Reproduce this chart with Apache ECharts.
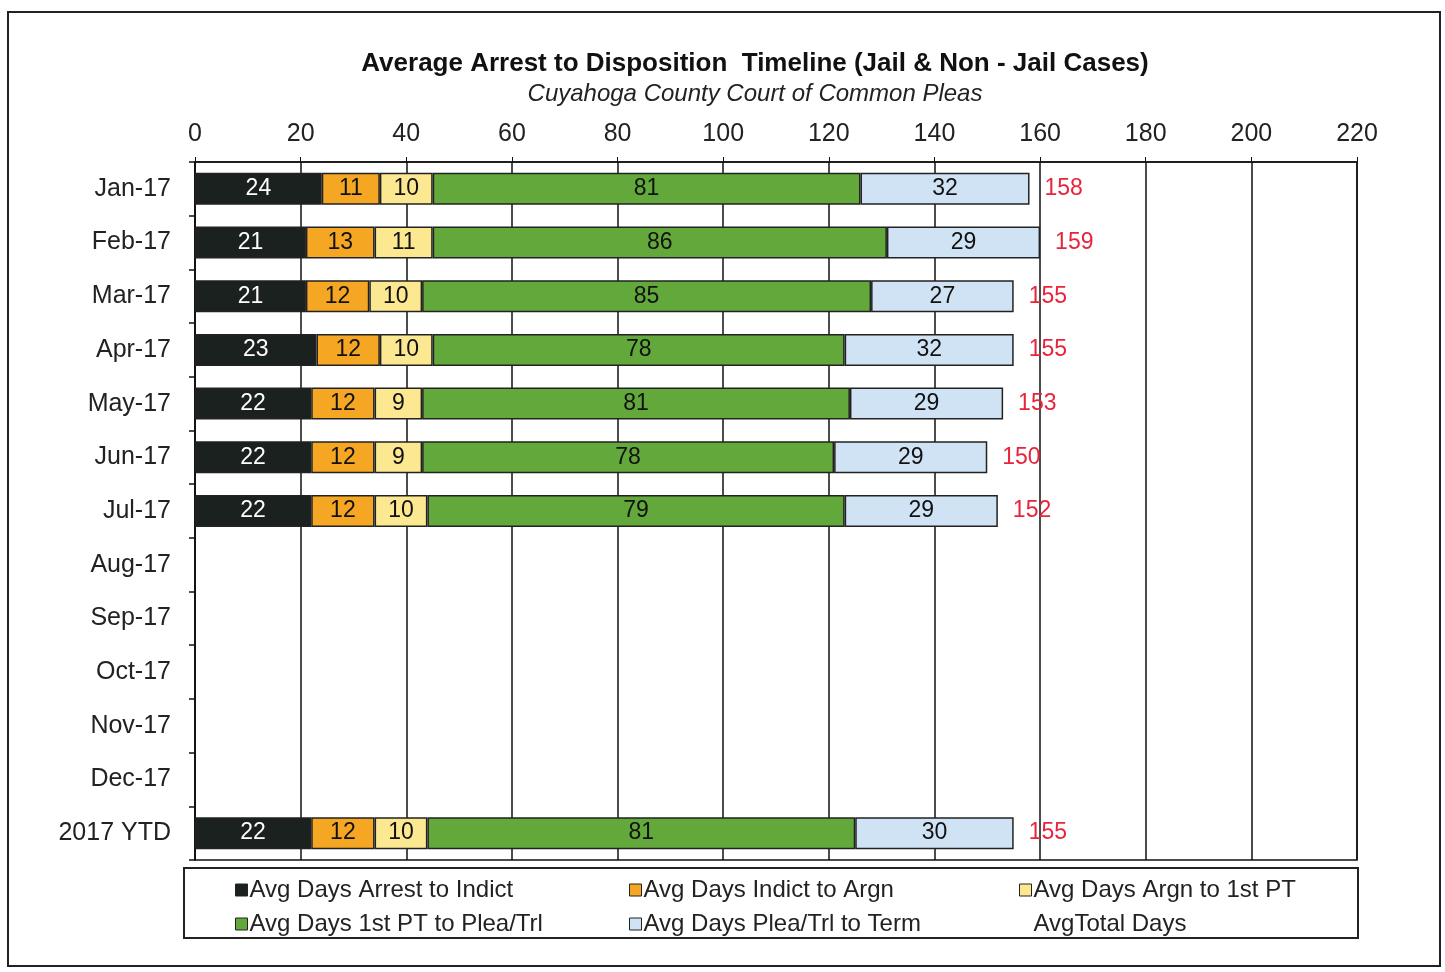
<!DOCTYPE html>
<html>
<head>
<meta charset="utf-8">
<script src="https://cdn.jsdelivr.net/npm/echarts@6/dist/echarts.min.js"></script>
<style>
  html, body { margin: 0; padding: 0; background: #fff; }
  #chart { width: 1445px; height: 972px; }
</style>
</head>
<body>
<div id="chart"></div>
<script>
// months, top to bottom
const months = ['Jan-17', 'Feb-17', 'Mar-17', 'Apr-17', 'May-17', 'Jun-17', 'Jul-17',
  'Aug-17', 'Sep-17', 'Oct-17', 'Nov-17', 'Dec-17', '2017 YTD'];

const arrestToIndict = [24, 21, 21, 23, 22, 22, 22, null, null, null, null, null, 22];
const indictToArgn   = [11, 13, 12, 12, 12, 12, 12, null, null, null, null, null, 12];
const argnTo1stPT    = [10, 11, 10, 10, 9, 9, 10, null, null, null, null, null, 10];
const ptToPlea       = [81, 86, 85, 78, 81, 78, 79, null, null, null, null, null, 81];
const pleaToTerm     = [32, 29, 27, 32, 29, 29, 29, null, null, null, null, null, 30];
const totalDays      = [158, 159, 155, 155, 153, 150, 152, null, null, null, null, null, 155];

const xTicks = [0, 220, 20]; // min, max, step

const font = '"Liberation Sans", Arial, sans-serif';
const chart = echarts.init(document.getElementById('chart'));

function seg(name, data, color, textColor) {
  return {
    name: name,
    type: 'bar',
    stack: 'days',
    barWidth: 32,
    data: data,
    itemStyle: { color: color, borderColor: '#222', borderWidth: 1.5 },
    label: {
      show: true,
      position: 'inside',
      color: textColor,
      fontSize: 23,
      fontFamily: font
    }
  };
}

const series = [
  seg('Avg Days Arrest to Indict', arrestToIndict, '#1b211e', '#fff'),
  seg('Avg Days Indict to Argn', indictToArgn, '#f5a623', '#111'),
  seg('Avg Days Argn to 1st PT', argnTo1stPT, '#fbe891', '#111'),
  seg('Avg Days 1st PT to Plea/Trl', ptToPlea, '#62a83a', '#111'),
  seg('Avg Days Plea/Trl to Term', pleaToTerm, '#cfe3f4', '#111'),
  {
    name: 'AvgTotal Days',
    type: 'bar',
    stack: 'days',
    barWidth: 32,
    data: totalDays.map(v => (v == null ? null : 0)),
    itemStyle: { color: 'rgba(0,0,0,0)', borderWidth: 0 },
    label: {
      show: true,
      position: 'right',
      distance: 15,
      color: '#e8243c',
      fontSize: 23,
      fontFamily: font,
      formatter: p => totalDays[p.dataIndex]
    }
  }
];

function legendCol(names, left) {
  return {
    orient: 'vertical',
    left: left,
    top: 873,
    itemWidth: 12,
    itemHeight: 12,
    itemGap: 10,
    icon: 'rect',
    data: names.map(n => n === 'AvgTotal Days'
      ? { name: n, icon: 'none' }
      : { name: n, itemStyle: { borderColor: '#222', borderWidth: 1 } }),
    textStyle: { fontSize: 24, color: '#222', fontFamily: font, padding: [0, 0, 0, -3] },
    selectedMode: false
  };
}

chart.setOption({
  animation: false,
  backgroundColor: '#fff',
  title: {
    text: 'Average Arrest to Disposition  Timeline (Jail & Non - Jail Cases)',
    subtext: 'Cuyahoga County Court of Common Pleas',
    left: 750,
    textAlign: 'center',
    top: 46,
    itemGap: 5,
    textStyle: { fontSize: 26, fontWeight: 'bold', color: '#111', fontFamily: font },
    subtextStyle: { fontSize: 24, fontStyle: 'italic', color: '#222', fontFamily: font }
  },
  legend: [
    legendCol(['Avg Days Arrest to Indict', 'Avg Days 1st PT to Plea/Trl'], 230),
    legendCol(['Avg Days Indict to Argn', 'Avg Days Plea/Trl to Term'], 624),
    legendCol(['Avg Days Argn to 1st PT', 'AvgTotal Days'], 1014)
  ],
  grid: {
    left: 195, right: 88, top: 162, bottom: 112,
    show: true, borderColor: '#111', borderWidth: 1.5
  },
  xAxis: {
    type: 'value',
    position: 'top',
    min: xTicks[0],
    max: xTicks[1],
    interval: xTicks[2],
    axisLine: { show: true, lineStyle: { color: '#111', width: 1.5 } },
    axisTick: { show: true, length: 5, lineStyle: { color: '#111' } },
    axisLabel: { fontSize: 25, color: '#222', fontFamily: font, margin: 15 },
    splitLine: { show: true, lineStyle: { color: '#111', width: 1.5 } }
  },
  yAxis: {
    type: 'category',
    inverse: true,
    data: months,
    axisLine: { show: true, lineStyle: { color: '#111', width: 1.5 } },
    axisTick: { show: true, length: 6, inside: false, lineStyle: { color: '#111', width: 1.5 } },
    axisLabel: { fontSize: 25, color: '#222', fontFamily: font, margin: 24 }
  },
  graphic: [
    {
      type: 'rect',
      shape: { x: 8, y: 12, width: 1432, height: 954 },
      style: { fill: null, stroke: '#222', lineWidth: 2 },
      silent: true, z: -1
    },
    {
      type: 'rect',
      shape: { x: 184, y: 868, width: 1174, height: 70 },
      style: { fill: null, stroke: '#222', lineWidth: 2 },
      silent: true
    }
  ],
  series: series
});
</script>
</body>
</html>
